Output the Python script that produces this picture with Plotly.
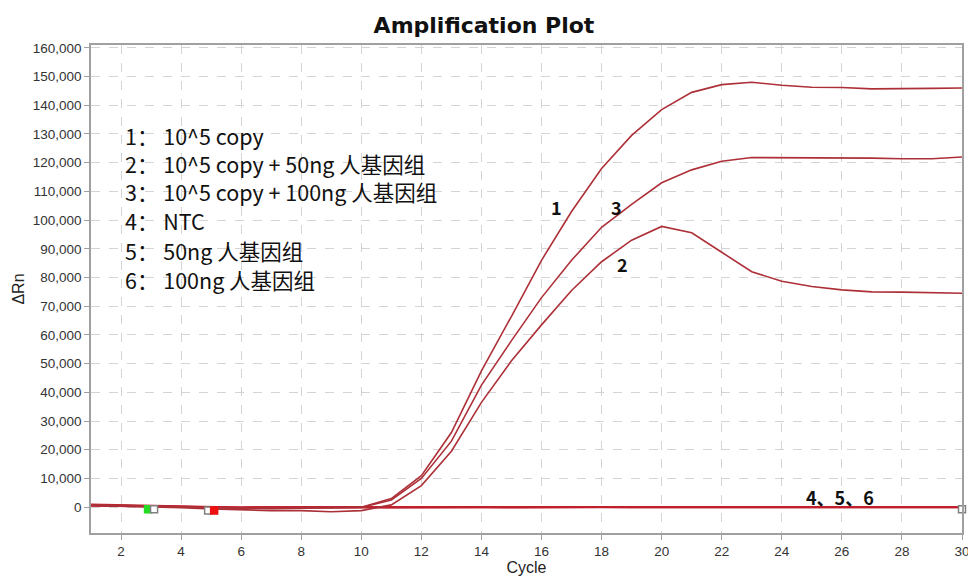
import plotly.graph_objects as go

cycles = list(range(1, 31))

curve_1 = [800, 600, 300, 0, -200, -300, -300, -200, -200, 0,
           3000, 11000, 26000, 47500, 66500, 86000, 103000, 118000, 129500, 138500,
           144500, 147200, 148000, 147000, 146300, 146200, 145700, 145900, 145900, 146000]
curve_2 = [600, 400, 0, -200, -600, -1000, -1200, -1200, -1600, -1200,
           800, 7500, 19500, 36500, 51000, 63500, 75500, 85500, 93000, 97800,
           95600, 88800, 82000, 78700, 76900, 75700, 75000, 74900, 74700, 74500]
curve_3 = [700, 500, 200, 0, -300, -500, -500, -400, -300, -100,
           2500, 10000, 23000, 42500, 58000, 73000, 86000, 97500, 105500, 113000,
           117500, 120500, 121800, 121800, 121800, 121700, 121600, 121400, 121400, 122000]
curve_4 = [900, 700, 300, 100, -100, -100, 0, 0, 100, 100,
           0, 0, 100, 100, 0, 0, 100, 200, 100, 0,
           0, 0, 100, 100, 0, 0, 0, 100, 100, 0]
curve_5 = [700, 500, 200, 0, -200, -200, -100, 0, 0, 0,
           -100, 0, 0, 0, -100, 0, 0, 100, 0, 0,
           -100, 0, 0, 0, 0, -100, 0, 0, 0, 0]
curve_6 = [500, 400, 100, 0, -100, -100, 0, 0, 0, 0,
           0, 0, 0, 100, 0, 0, 0, 0, 0, 100,
           0, 0, 0, 0, 100, 0, 0, 0, 0, 100]

legend_lines = ["1： 10^5 copy", "2： 10^5 copy + 50ng 人基因组", "3： 10^5 copy + 100ng 人基因组",
                "4： NTC", "5： 50ng 人基因组", "6： 100ng 人基因组"]

# baseline start/end markers
marker_x = [2.9, 3.1, 4.9, 5.1, 30]
marker_y = [-700, -700, -1200, -1200, -700]
marker_fill = ["#22dd22", "white", "white", "#ee1111", "white"]
marker_line = ["#22dd22", "#808080", "#808080", "#ee1111", "#808080"]

line_color = "#ad3038"
base_color = "#c0202c"

fig = go.Figure()
for ys in [curve_4, curve_5, curve_6]:
    fig.add_trace(go.Scatter(x=cycles, y=ys, mode="lines",
                             line=dict(color=base_color, width=2), showlegend=False))
for ys in [curve_1, curve_2, curve_3]:
    fig.add_trace(go.Scatter(x=cycles, y=ys, mode="lines",
                             line=dict(color=line_color, width=1.6), showlegend=False))
fig.add_trace(go.Scatter(x=marker_x, y=marker_y, mode="markers", showlegend=False,
                         cliponaxis=False,
                         marker=dict(symbol="square", size=7, color=marker_fill,
                                     line=dict(color=marker_line, width=1.5))))

annos = []
line_y = [129500, 119700, 109800, 99700, 89500, 79300]
for txt, yv in zip(legend_lines, line_y):
    annos.append(dict(x=2.07, y=yv, xref="x", yref="y", text=txt, showarrow=False,
                      xanchor="left", yanchor="middle",
                      font=dict(family="Noto Sans CJK SC", size=21.5, color="#111")))
for txt, xv, yv in [("1", 16.5, 104500), ("3", 18.48, 104500), ("2", 18.7, 84700),
                    ("4、5、6", 25.93, 3500)]:
    annos.append(dict(x=xv, y=yv, xref="x", yref="y", text="<b>" + txt + "</b>",
                      showarrow=False, xanchor="center", yanchor="middle",
                      font=dict(family="Noto Sans CJK SC", size=18, color="#111")))

fig.update_layout(
    width=968, height=576,
    margin=dict(l=91, r=6, t=45, b=43),
    paper_bgcolor="white", plot_bgcolor="white",
    title=dict(text="<b>Amplification Plot</b>", x=0.5, xref="container", xanchor="center",
               y=1 - 25 / 576, yref="container", yanchor="middle",
               font=dict(family="DejaVu Sans", size=22, color="#111")),
    annotations=annos,
    xaxis=dict(range=[1, 30], tickvals=list(range(2, 31, 2)), showgrid=True,
               gridcolor="#d4d4d4", griddash="dash", gridwidth=1,
               showline=True, linecolor="#a0a0a0", linewidth=1.5, mirror=True,
               ticks="outside", ticklen=5, tickcolor="#a0a0a0", zeroline=False,
               automargin=False, ticklabeloverflow="allow",
               tickfont=dict(family="Liberation Sans", size=13.5, color="#333"),
               title=dict(text="Cycle", standoff=6,
                          font=dict(family="Liberation Sans", size=16, color="#222"))),
    yaxis=dict(range=[-9000, 161000], tickvals=list(range(0, 160001, 10000)),
               tickformat=",d", showgrid=True, gridcolor="#d4d4d4", griddash="dash",
               gridwidth=1, showline=True, linecolor="#a0a0a0", linewidth=1.5, mirror=True,
               ticks="outside", ticklen=5, tickcolor="#a0a0a0", zeroline=False,
               automargin=False,
               tickfont=dict(family="Liberation Sans", size=13.5, color="#333"),
               title=dict(text="ΔRn", standoff=4,
                          font=dict(family="Liberation Sans", size=16, color="#222"))),
)

fig.write_html("out.html", config={"displayModeBar": False},
               post_script="document.body.style.margin='0';")
